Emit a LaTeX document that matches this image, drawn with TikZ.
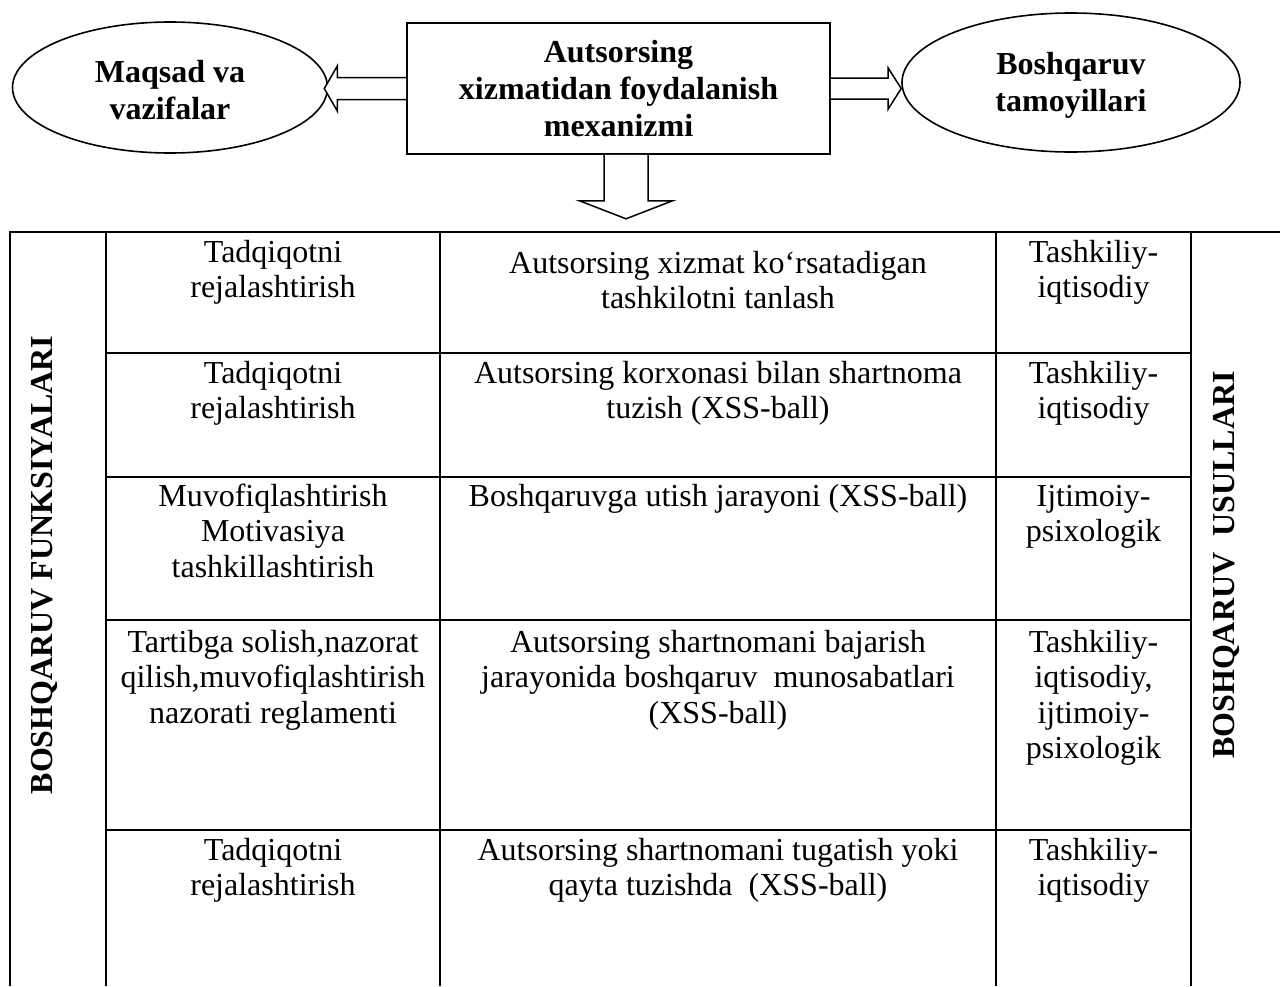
\documentclass[tikz,border=0pt]{standalone}
\usepackage{fontspec}
\setmainfont{Liberation Serif}
\usetikzlibrary{shapes.geometric,calc}
\begin{document}
\begin{tikzpicture}[x=1pt,y=-1pt,
  bold/.style={font=\fontsize{32}{37}\selectfont\bfseries},
  topshape/.style={draw, line width=1.6pt, bold, align=center, inner sep=0pt},
  etext/.style={bold, align=center, inner sep=0pt, yshift=-2.5pt},
  cell/.style={anchor=north, inner sep=0pt, align=center, font=\fontsize{32}{35.5}\selectfont},
  blockarrow/.style={draw, line width=1.5pt, fill=white, line join=miter},
  vgrid/.style={line width=1.3pt},
  hgrid/.style={line width=1.7pt},
  vlabel/.style={bold, rotate=90, inner sep=0pt}]
\useasboundingbox (0,0) rectangle (1280,986);

% top row
\node[topshape, ellipse, minimum width=315pt, minimum height=131pt,
      label={[etext]center:Maqsad va\\vazifalar}] (goal) at (170,87.5) {};
\node[topshape, rectangle, minimum width=423pt, minimum height=131pt] (mech) at (618.5,88.5) {Autsorsing\\xizmatidan foydalanish\\mexanizmi};
\node[topshape, ellipse, minimum width=338pt, minimum height=139pt,
      label={[etext]center:Boshqaruv\\tamoyillari}] (princ) at (1071,82.5) {};

% left block arrow
\coordinate (ltip) at ($(goal.east |- mech.west)+(-4,0)$);
\draw[blockarrow] ($(mech.west)+(0,-11)$) -- ($(ltip)+(13,-11)$) -- ($(ltip)+(13,-22.5)$) -- (ltip)
  -- ($(ltip)+(13,22.5)$) -- ($(ltip)+(13,11)$) -- ($(mech.west)+(0,11)$);
% right block arrow
\coordinate (rtip) at (princ.west |- mech.east);
\draw[blockarrow] ($(mech.east)+(0,-10.5)$) -- ($(rtip)+(-13,-10.5)$) -- ($(rtip)+(-13,-20.5)$) -- (rtip)
  -- ($(rtip)+(-13,20.5)$) -- ($(rtip)+(-13,10.5)$) -- ($(mech.east)+(0,10.5)$);
% down block arrow
\coordinate (dtop) at ($(mech.south)+(7.5,0)$);
\coordinate (dtip) at ($(dtop)+(0,64)$);
\draw[blockarrow] ($(dtop)+(-22,0)$) -- ($(dtop)+(-22,46)$) -- ($(dtop)+(-46.5,46)$) -- (dtip)
  -- ($(dtop)+(46.5,46)$) -- ($(dtop)+(22,46)$) -- ($(dtop)+(22,0)$);

% table grid
\draw[hgrid] (10,986) -- (10,232) -- (1280,232);
\foreach \xx in {106,440,996,1191} \draw[vgrid] (\xx,232) -- (\xx,986);
\foreach \yy in {353,477,620,830} \draw[hgrid] (106,\yy) -- (1191,\yy);

% side labels
\node[vlabel] (funcs) at (44,565) {BOSHQARUV FUNKSIYALARI};
\node[vlabel] (meths) at (1226,565) {BOSHQARUV\ \ USULLARI};

% row 1
\node[cell] (r1a) at (273,237.15) {\strut Tadqiqotni\\rejalashtirish};
\node[cell] (r1b) at (718,248.15) {\strut Autsorsing xizmat ko‘rsatadigan\\tashkilotni tanlash};
\node[cell] (r1c) at (1093.5,237.15) {\strut Tashkiliy-\\iqtisodiy};
% row 2
\node[cell] (r2a) at (273,358.15) {\strut Tadqiqotni\\rejalashtirish};
\node[cell] (r2b) at (718,358.15) {\strut Autsorsing korxonasi bilan shartnoma\\tuzish (XSS-ball)};
\node[cell] (r2c) at (1093.5,358.15) {\strut Tashkiliy-\\iqtisodiy};
% row 3
\node[cell] (r3a) at (273,481.15) {\strut Muvofiqlashtirish\\Motivasiya\\tashkillashtirish};
\node[cell] (r3b) at (718,481.15) {\strut Boshqaruvga utish jarayoni (XSS-ball)};
\node[cell] (r3c) at (1093.5,481.15) {\strut Ijtimoiy-\\psixologik};
% row 4
\node[cell] (r4a) at (273,627.15) {\strut Tartibga solish,nazorat\\qilish,muvofiqlashtirish\\nazorati reglamenti};
\node[cell] (r4b) at (718,627.15) {\strut Autsorsing shartnomani bajarish\\jarayonida boshqaruv\ \ munosabatlari\\(XSS-ball)};
\node[cell] (r4c) at (1093.5,627.15) {\strut Tashkiliy-\\iqtisodiy,\\ijtimoiy-\\psixologik};
% row 5
\node[cell] (r5a) at (273,835.15) {\strut Tadqiqotni\\rejalashtirish};
\node[cell] (r5b) at (718,835.15) {\strut Autsorsing shartnomani tugatish yoki\\qayta tuzishda\ \ (XSS-ball)};
\node[cell] (r5c) at (1093.5,835.15) {\strut Tashkiliy-\\iqtisodiy};
\end{tikzpicture}
\end{document}
